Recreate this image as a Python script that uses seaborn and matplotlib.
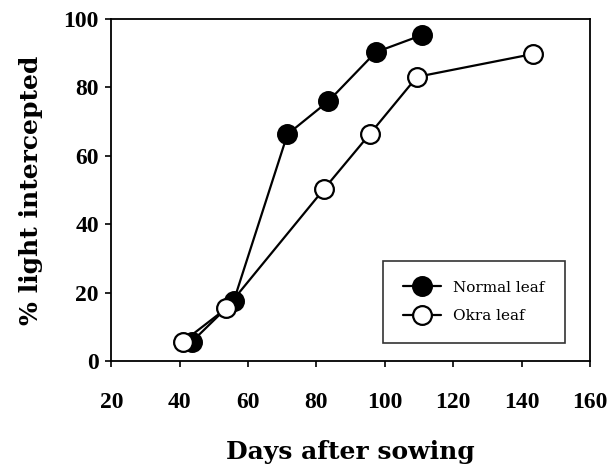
from matplotlib import pyplot as plt
import seaborn as sns
import pandas as pd

# values
normal_days = [43.5, 55.8, 71.5, 83.5, 97.3, 110.8]
normal_light = [5.6, 17.6, 66.3, 76.0, 90.3, 95.3]
okra_days = [40.9, 53.6, 82.2, 95.7, 109.4, 143.4]
okra_light = [5.6, 15.4, 50.3, 66.5, 83.1, 89.8]
series = ["Normal leaf", "Okra leaf"]
x_ticks = [20, 40, 60, 80, 100, 120, 140, 160]
y_ticks = [0, 20, 40, 60, 80, 100]

df = pd.concat([
    pd.DataFrame({"days": normal_days, "light": normal_light, "leaf": series[0]}),
    pd.DataFrame({"days": okra_days, "light": okra_light, "leaf": series[1]}),
], ignore_index=True)

sns.set_theme(style="ticks")
plt.rcParams["font.family"] = ["DejaVu Serif"]
plt.rcParams["text.color"] = "black"

fig = plt.figure(figsize=(6.12, 4.71), dpi=100)
ax = fig.add_axes([0.182, 0.2335, 0.782, 0.726])

faces = {"Normal leaf": "black", "Okra leaf": "white"}
for name in series:
    sub = df[df["leaf"] == name]
    sns.lineplot(
        data=sub, x="days", y="light", ax=ax,
        color="black", linewidth=1.6, marker="o", markersize=13.5,
        markerfacecolor=faces[name], markeredgecolor="black", markeredgewidth=1.6,
        label=name, sort=False,
    )

ax.set_xlim(20, 160)
ax.set_ylim(0, 100)
ax.set_xticks(x_ticks)
ax.set_yticks(y_ticks)
ax.tick_params(axis="x", direction="out", length=4, width=1.2, pad=18, colors="black")
ax.tick_params(axis="y", direction="out", length=4, width=1.2, pad=5, colors="black")
for lab in ax.get_xticklabels() + ax.get_yticklabels():
    lab.set_fontfamily("Liberation Serif")
    lab.set_fontweight("bold")
    lab.set_fontsize(17)
for s in ax.spines.values():
    s.set_color("black")
    s.set_linewidth(1.3)

ax.set_xlabel("Days after sowing", fontsize=18, fontweight="bold", labelpad=20, color="black")
ax.set_ylabel("% light intercepted", fontsize=18, fontweight="bold", labelpad=15, color="black")

leg = ax.legend(
    loc="lower right", bbox_to_anchor=(0.947, 0.053), borderaxespad=0,
    fontsize=11, frameon=True, fancybox=False, edgecolor="black",
    handlelength=2.5, handletextpad=0.8, borderpad=1.3, labelspacing=0.95,
)
leg.get_frame().set_linewidth(1.2)
for t in leg.get_texts():
    t.set_color("black")

plt.savefig("out.png", dpi=100)
